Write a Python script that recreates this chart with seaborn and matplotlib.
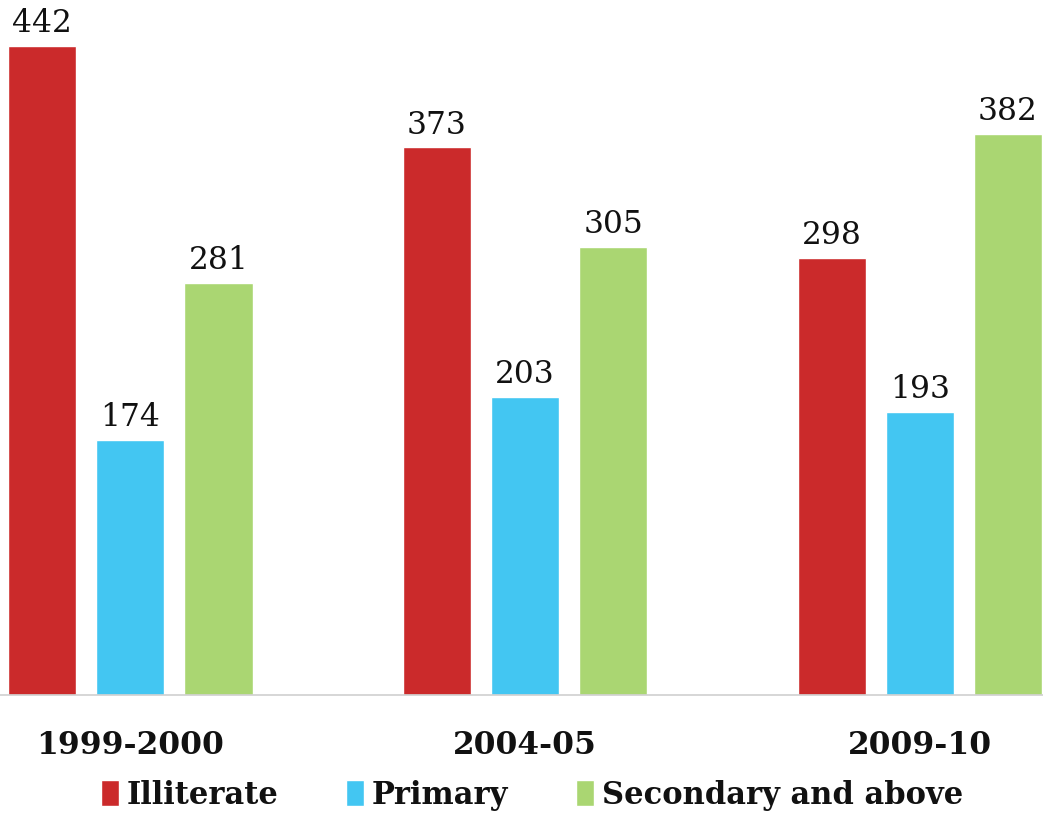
import matplotlib
matplotlib.use("Agg")
from matplotlib import pyplot as plt
import pandas as pd
import seaborn as sns

# dados do grafico
anos = ["1999-2000", "2004-05", "2009-10"]
niveis = ["Illiterate", "Primary", "Secondary and above"]
illiterate = [442, 373, 298]
primary = [174, 203, 193]
secondary = [281, 305, 382]
cores = ["#CB2A2B", "#43C6F2", "#AAD672"]

df = pd.DataFrame({
    "ano": anos * 3,
    "nivel": [niveis[0]] * 3 + [niveis[1]] * 3 + [niveis[2]] * 3,
    "valor": illiterate + primary + secondary,
})

sns.set_style("white")
plt.rcParams["font.family"] = ["DejaVu Serif", "DejaVu Sans"]

fig = plt.figure(figsize=(10.43, 8.15), dpi=100)
ax = fig.add_axes([0, 0.1472, 1, 0.8466])

sns.barplot(data=df, x="ano", y="valor", hue="nivel", order=anos,
            hue_order=niveis, palette=cores, width=0.67, gap=0.227,
            saturation=1, ax=ax, legend=True)

# rotulos de valor
for c in ax.containers:
    ax.bar_label(c, fmt="%d", padding=5, fontsize=22.5, color="#111111")

ax.set_xlim(-0.330, 2.312)
ax.set_ylim(0, 470)
ax.set_xlabel("")
ax.set_ylabel("")
ax.set_yticks([])
ax.tick_params(axis="x", length=0, pad=25, colors="#111111")
for t in ax.get_xticklabels():
    t.set_fontweight("bold")
    t.set_fontsize(22.5)

for s in ["top", "left", "right"]:
    ax.spines[s].set_visible(False)
ax.spines["bottom"].set_color("#D0D0D0")
ax.spines["bottom"].set_linewidth(1.2)

# legenda
handles, labels = ax.get_legend_handles_labels()
ax.get_legend().remove()
leg = fig.legend(handles, labels, loc="center", bbox_to_anchor=(0.51, 0.0245),
                 ncol=3, frameon=False, handlelength=0.6, handleheight=0.9,
                 handletextpad=0.25, columnspacing=2.2,
                 prop={"weight": "bold", "size": 22})
for t in leg.get_texts():
    t.set_color("#111111")

fig.savefig("out.png", dpi=100)
